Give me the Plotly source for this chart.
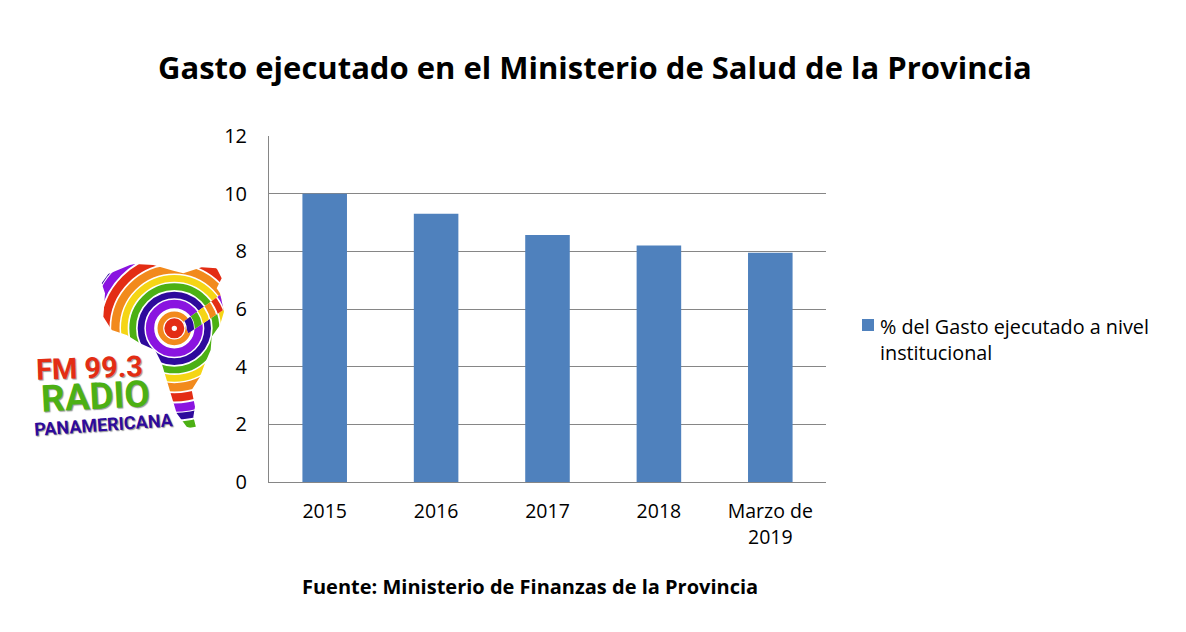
import base64
import plotly.graph_objects as go

categories = ["2015", "2016", "2017", "2018", "Marzo de<br>2019"]
values = [10.0, 9.3, 8.57, 8.2, 7.95]
series_name = "% del Gasto ejecutado a nivel<br>institucional"
title = "Gasto ejecutado en el Ministerio de Salud de la Provincia"
source = "Fuente: Ministerio de Finanzas de la Provincia"
BAR = "#4F81BD"
GRID = "#868686"

# page-pixel geometry of the plot area (the page body has an 8 px margin)
L, T, W, H = 269, 136, 557, 346
def px(x): return (x - L) / W
def py(y): return 1 - (y - T) / H

# decorative logo: rainbow rings clipped to a South America outline
outline = ("245,100 265,72 330,45 345,42 400,45 460,62 490,70 545,52 590,55 605,85 590,115 "
           "600,130 612,185 600,225 575,260 572,300 555,340 540,380 515,420 525,470 520,500 "
           "530,540 500,530 470,490 455,440 440,390 425,340 405,300 360,280 320,255 275,240 250,200 255,130")
rings = [(19, 22, "#E32D14"), (42, 17, "#F28A1C"), (73, 25, "#8A14E0"), (100, 20, "#2E0A9C"),
         (125, 20, "#4CB014"), (150, 20, "#F5D515"), (177, 25, "#F28A1C"), (207, 25, "#E32D14"),
         (238, 25, "#8A14E0"), (264, 20, "#2E0A9C"), (291, 22, "#4CB014")]
ray = [(48, 22, "#2E0A9C"), (72, 22, "#4CB014"), (97, 20, "#F5D515"), (122, 20, "#F28A1C"), (146, 18, "#E32D14"), (170, 20, "#8A14E0")]
circles = "".join(f'<circle cx="463" cy="235" r="{r}" fill="none" stroke="{c}" stroke-width="{w}"/>' for r, w, c in rings)
ray_circles = "".join(f'<circle cx="463" cy="235" r="{r}" fill="none" stroke="{c}" stroke-width="{w}"/>' for r, w, c in ray)
svg = f'''<svg xmlns="http://www.w3.org/2000/svg" width="630" height="600" viewBox="0 0 630 600">
<defs><clipPath id="sa"><polygon points="{outline}"/></clipPath>
<clipPath id="ray"><polygon points="490,215 600,135 625,170 505,250"/></clipPath></defs>
<g clip-path="url(#sa)">{circles}<polygon points="490,215 600,135 625,170 505,250" fill="white"/>
<g clip-path="url(#ray)">{ray_circles}</g></g></svg>'''
logo = "data:image/svg+xml;base64," + base64.b64encode(svg.encode()).decode()

fig = go.Figure(go.Bar(x=categories, y=values, name=series_name, marker=dict(color=BAR, line=dict(width=0)), width=0.4, showlegend=False))

fig.update_layout(
    width=1178, height=624, autosize=False,
    paper_bgcolor="white", plot_bgcolor="white",
    margin=dict(l=L - 8, r=1178 - (L - 8) - W, t=T - 8, b=624 - (T - 8) - H),
    font=dict(family="Open Sans", color="black", size=18),
    xaxis=dict(showline=True, linecolor=GRID, ticks="outside", tickcolor="rgba(0,0,0,0)", ticklen=12, tickfont=dict(size=19.5)),
    yaxis=dict(range=[0, 12], dtick=2, showline=True, linecolor=GRID, gridcolor=GRID, gridwidth=1,
               ticks="outside", tickcolor="rgba(0,0,0,0)", ticklen=17, tickfont=dict(size=20), zeroline=False),
    images=[dict(source=logo, xref="paper", yref="paper", x=px(20), y=py(250), sizex=210 / W, sizey=200 / H,
                 xanchor="left", yanchor="top", sizing="stretch", layer="above")],
)

def note(text, x, y, size, color="black", family="Open Sans", anchor="center", angle=0, shadow="none"):
    fig.add_annotation(text=text, xref="paper", yref="paper", x=px(x), y=py(y), xanchor=anchor, yanchor="middle",
                       showarrow=False, align="left", textangle=angle,
                       font=dict(size=size, color=color, family=family, shadow=shadow))

note(f"<b>{title}</b>", 595, 67, 31)
note(f"<b>{source}</b>", 530, 586, 20)
note(series_name, 878, 339, 19.8, anchor="left")
fig.add_shape(type="rect", xref="paper", yref="paper", x0=px(862), x1=px(874), y0=py(319), y1=py(331),
              fillcolor=BAR, line_width=0)

logo_shadow = "1px 1px 1px #999"
note("<b>FM 99.3</b>", 89, 368, 29, "#E32D14", "Roboto", angle=-2, shadow=logo_shadow)
note("<b>RADIO</b>", 95, 396, 37, "#4CB014", "Roboto", angle=-3, shadow=logo_shadow)
note("<b>PANAMERICANA</b>", 104, 424, 18, "#2E0A9C", "Roboto", angle=-4, shadow=logo_shadow)

fig.write_html("out.html")
